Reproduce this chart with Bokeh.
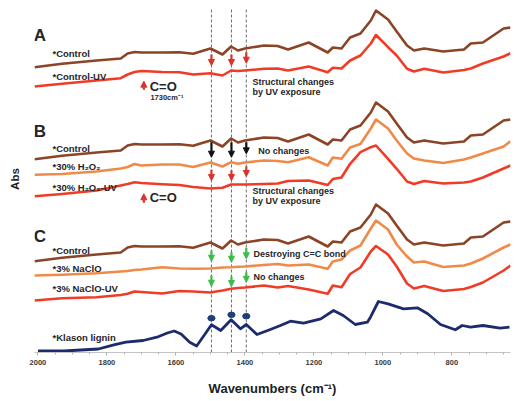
import math
from bokeh.plotting import figure
from bokeh.models import Range1d, Arrow, NormalHead, FixedTicker
from bokeh.core.properties import value
from bokeh.embed import file_html
from bokeh.resources import INLINE

# ---------------- data ----------------
wavenumbers = [2010, 1930, 1830, 1760, 1740, 1720, 1700, 1640, 1590, 1550, 1500, 1465, 1440,
               1420, 1400, 1345, 1305, 1275, 1215, 1160, 1145, 1120, 1095, 1065, 1035, 1020,
               985, 960, 930, 910, 880, 825, 765, 745, 710, 650, 630]

control = [285.3, 288.7, 292, 294, 299, 300.5, 300, 300, 300.3, 298.7, 304, 298, 306,
           302, 304, 307, 306.5, 303, 310, 300, 305, 304, 315, 319, 332, 342,
           333, 321, 307, 302, 304, 301, 303, 309, 310, 324, 325]

control_uv = [266, 268.7, 272, 274.3, 278, 280.5, 281.5, 280.5, 280.3, 278, 279.3, 277, 282,
              281.5, 282, 283.7, 284, 282, 286, 280.3, 284.7, 284, 292, 297, 309, 317.5,
              305.3, 297, 283.7, 281, 283.7, 280, 282.5, 284, 289, 296, 299.3]

h2o2 = [177.7, 178.5, 181, 184, 185.5, 188.5, 187, 188, 188, 185.5, 190, 186, 190.3,
        188.7, 190, 192, 191.5, 190.3, 195.3, 187, 195, 193.7, 205, 208.5, 224, 233,
        224, 212, 199, 194, 192, 189.5, 193, 195, 199, 206, 211.3]

h2o2_uv = [156.3, 158.5, 162, 167, 168.5, 170.3, 169.5, 168.3, 167.5, 165.5, 164, 164.7, 168,
           168, 168, 168.5, 169, 171.5, 172, 167.5, 173.5, 175, 188.7, 200.3, 205.3, 207,
           193.7, 183.7, 171, 168.5, 171.5, 169, 170, 171, 175, 184, 187]

naclo = [77, 77.7, 79.3, 81, 81.5, 82.5, 83, 85.3, 84, 83.7, 84, 85, 85.3,
         85.7, 86, 87.5, 88.5, 87, 88, 83.7, 91, 93, 102, 107, 124, 132,
         123, 108, 96, 90, 91, 85.5, 87, 89, 94, 105, 108]

naclo_uv = [52, 54.3, 55.3, 57.5, 58.7, 61, 60.5, 59, 61.5, 61, 60, 62, 63.7,
            64.5, 65, 67, 65, 66.5, 63, 58.7, 67, 65.3, 78.5, 85, 101, 106.5,
            98, 86, 69, 64, 66.5, 61.5, 63.5, 65.5, 70, 82, 87]

lignin_wn = [2000, 1925, 1825, 1780, 1745, 1695, 1655, 1625, 1605, 1585, 1560, 1540, 1515, 1497,
             1470, 1440, 1413, 1396, 1365, 1330, 1297, 1268, 1230, 1180, 1143, 1115, 1080,
             1045, 1036, 1013, 985, 940, 900, 870, 833, 790, 770, 746, 710, 660, 633]
lignin = [1.5, 1.5, 3.5, 7.7, 10.3, 12, 15.3, 19.5, 21.5, 18.5, 10.3, 6.5, 18.7, 27.7,
          22, 32.7, 23.7, 28, 18, 22.5, 27, 31.3, 29.3, 33.7, 42, 37, 28,
          30.3, 35.3, 51, 48.7, 43.7, 44.7, 38.7, 28, 22.7, 27, 25.3, 27, 24.3, 25.3]

# vertical stacking offsets of the repeated control spectrum in panels B and C
panel_offsets = {"A": 0, "B": -92, "C": -194}

bands = [1497, 1439, 1396]          # dashed guide lines (cm-1)
x_ticks = [2000, 1800, 1600, 1400, 1200, 1000, 800]

BROWN = "#8B4526"
ORANGE = "#F08A48"
RED = "#F03C26"
NAVY = "#1C2B6C"
ARROW_RED = "#D8342A"
GREEN = "#3DBB4B"
TXT = "#262626"
FONT = "Liberation Sans"

# ---------------- figure ----------------
p = figure(width=517, height=401, output_backend="svg", toolbar_location=None,
           x_range=Range1d(2010, 630), y_range=Range1d(0, 347),
           min_border_left=34, min_border_right=7, min_border_top=5, min_border_bottom=49)
p.outline_line_color = None
p.grid.grid_line_color = None
p.background_fill_color = "white"

xa = p.xaxis[0]
xa.ticker = FixedTicker(ticks=x_ticks, minor_ticks=list(range(650, 2001, 50)))
xa.axis_line_color = "#c4c4c4"
xa.major_tick_line_color = "#b0b0b0"
xa.minor_tick_line_color = "#b0b0b0"
xa.major_tick_out = 3
xa.major_tick_in = 0
xa.minor_tick_out = 2
xa.minor_tick_in = 0
xa.major_label_text_font = FONT
xa.major_label_text_font_style = "bold"
xa.major_label_text_font_size = "7.5px"
xa.major_label_text_color = "#3a3a3a"
xa.major_label_standoff = 4
xa.axis_label = "Wavenumbers (cm\u207b\u00b9)"
xa.axis_label_text_font = FONT
xa.axis_label_text_font_style = "bold"
xa.axis_label_text_font_size = "13px"
xa.axis_label_text_color = "#1e1e1e"
xa.axis_label_standoff = 13

ya = p.yaxis[0]
ya.ticker = FixedTicker(ticks=[])
ya.axis_line_color = None
ya.major_tick_line_color = None
ya.minor_tick_line_color = None
ya.major_label_text_font_size = "0px"
ya.axis_label = "Abs"
ya.axis_label_text_font = FONT
ya.axis_label_text_font_style = "bold"
ya.axis_label_text_font_size = "11.5px"
ya.axis_label_text_color = "#1e1e1e"
ya.axis_label_standoff = 14

# dashed guide lines
p.segment(x0=bands, y0=[0] * 3, x1=bands, y1=[344] * 3,
          line_color="#6a6a6a", line_width=1, line_dash="3 2")

# spectra
def line(x, y, color, off=0, w=2.6):
    p.line(x, [v + off for v in y], line_color=color, line_width=w, line_join="round")

line(wavenumbers, control, BROWN, panel_offsets["A"])
line(wavenumbers, control_uv, RED)
line(wavenumbers, control, BROWN, panel_offsets["B"])
line(wavenumbers, h2o2, ORANGE)
line(wavenumbers, h2o2_uv, RED)
line(wavenumbers, control, BROWN, panel_offsets["C"])
line(wavenumbers, naclo, ORANGE)
line(wavenumbers, naclo_uv, RED)
line(lignin_wn, lignin, NAVY, 0, 2.8)

# lignin band markers
p.ellipse(x=bands, y=[34.3, 37.7, 36.3], width=21, height=5.5,
          fill_color="#1F3F78", line_color="#1F3F78")

# arrows
def arrows(xs, tops, bottoms, color):
    for x, t, b in zip(xs, tops, bottoms):
        p.add_layout(Arrow(x_start=x, y_start=t, x_end=x, y_end=b,
                           line_color=color, line_width=2.2,
                           end=NormalHead(size=6, fill_color=color, line_color=color)))

arrows(bands, [298, 298, 300.3], [287, 287, 289.3], ARROW_RED)
arrows(bands, [210.3, 210.3, 210.3], [195.3, 195.3, 198.7], "#111111")
arrows(bands, [182.7, 182, 186], [172, 172, 176], ARROW_RED)
arrows(bands, [102, 100.3, 104.7], [91.3, 90.3, 93.7], GREEN)
arrows(bands, [77, 76, 80.3], [66.3, 66, 70.3], GREEN)
arrows([1693], [262.7], [271.3], ARROW_RED)
arrows([1693], [149.7], [158.7], ARROW_RED)

# texts
def txt(x, y, s, size="9.5px", align="left", color=TXT):
    p.text(x=[x], y=[y], text=[s], text_font=value(FONT), text_font_style="bold",
           text_font_size=size, text_color=color, text_align=align, text_baseline="middle")

txt(2012, 317, "A", "17px")
txt(2012, 221, "B", "17px")
txt(2012, 116, "C", "17px")

series_labels = ["*Control", "*Control-UV", "*Control", "*30% H\u2082O\u2082", "*30% H\u2082O\u2082-UV",
                 "*Control", "*3% NaClO", "*3% NaClO-UV", "*Klason lignin"]
label_y = [298.7, 276, 204.3, 186.3, 165.3, 102, 83.7, 63.7, 15.3]
for s, y in zip(series_labels, label_y):
    txt(1958, y, s)

txt(1378, 271, "Structural changes", "9px")
txt(1378, 260.3, "by UV exposure", "9px")
txt(1361, 202, "No changes", "9px")
txt(1378, 162, "Structural changes", "9px")
txt(1378, 151.3, "by UV exposure", "9px")
txt(1375, 98.7, "Destroying C=C bond", "9px")
txt(1375, 75.3, "No changes", "9px")

txt(1676, 266, "C=O", "13px")
txt(1674, 255, "1730cm\u207b\u00b9", "7.5px")
txt(1676, 154.7, "C=O", "13px")

open("out.html", "w").write(file_html(p, INLINE))
